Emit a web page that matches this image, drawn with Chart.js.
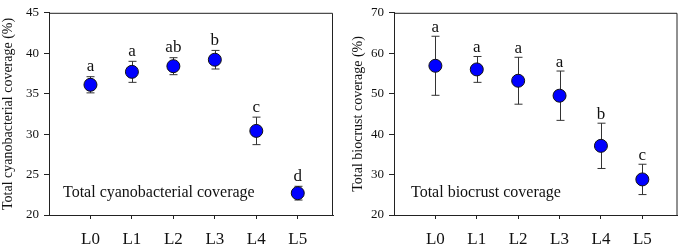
<!DOCTYPE html>
<html lang="en">
<head>
  <meta charset="UTF-8">
  <title>Coverage by level</title>
  <style>
    body {
      margin: 0;
      padding: 0;
      background: #fff;
    }
    .wrap {
      position: relative;
      width: 685px;
      height: 244px;
    }
    #leftBox { position: absolute; left: 0; top: 0; width: 342px; height: 244px; }
    #rightBox { position: absolute; left: 345px; top: 0; width: 340px; height: 244px; }
  </style>
</head>
<body>
  <div class="wrap">
    <div id="leftBox"><canvas id="cyanoChart"></canvas></div>
    <div id="rightBox"><canvas id="crustChart"></canvas></div>
  </div>

  <script src="https://cdn.jsdelivr.net/npm/chart.js"></script>
  <script>
    // categories (x axis)
    var levels = ['L0', 'L1', 'L2', 'L3', 'L4', 'L5'];

    // total cyanobacterial coverage (%), mean and error
    var cyanoMean = [36.1, 37.7, 38.4, 39.2, 30.4, 22.7];
    var cyanoErr  = [1.0, 1.3, 1.05, 1.15, 1.7, 0.85];
    var cyanoLetters = ['a', 'a', 'ab', 'b', 'c', 'd'];
    var cyanoTicks = [20, 25, 30, 35, 40, 45];

    // total biocrust coverage (%), mean and error
    var crustMean = [56.9, 56.0, 53.2, 49.5, 37.1, 28.8];
    var crustErr  = [7.3, 3.2, 5.8, 6.1, 5.6, 3.75];
    var crustLetters = ['a', 'a', 'a', 'a', 'b', 'c'];
    var crustTicks = [20, 30, 40, 50, 60, 70];

    var serif = '"Liberation Serif", "DejaVu Serif", serif';
    var ink = '#222';

    // error bars, box border, letters and inner caption
    var extras = {
      id: 'extras',
      beforeDatasetsDraw: function(chart, args, opts) {
        var ctx = chart.ctx, xs = chart.scales.x, ys = chart.scales.y;
        ctx.save();
        ctx.strokeStyle = '#333';
        ctx.lineWidth = 1;
        opts.mean.forEach(function(m, i) {
          var x = Math.round(xs.getPixelForValue(i)) + 0.5;
          var yt = ys.getPixelForValue(m + opts.err[i]);
          var yb = ys.getPixelForValue(m - opts.err[i]);
          ctx.beginPath();
          ctx.moveTo(x, yt); ctx.lineTo(x, yb);
          ctx.moveTo(x - 4, yt); ctx.lineTo(x + 4, yt);
          ctx.moveTo(x - 4, yb); ctx.lineTo(x + 4, yb);
          ctx.stroke();
        });
        ctx.restore();
      },
      afterDraw: function(chart, args, opts) {
        var ctx = chart.ctx, a = chart.chartArea, xs = chart.scales.x, ys = chart.scales.y;
        ctx.save();
        // top and right frame
        ctx.strokeStyle = ink;
        ctx.lineWidth = 1;
        ctx.beginPath();
        ctx.moveTo(a.left, a.top + 0.5);
        ctx.lineTo(a.right - 0.5, a.top + 0.5);
        ctx.lineTo(a.right - 0.5, a.bottom);
        ctx.stroke();
        // significance letters
        ctx.fillStyle = '#111';
        ctx.font = '17px ' + serif;
        ctx.textAlign = 'center';
        ctx.textBaseline = 'middle';
        opts.letters.forEach(function(t, i) {
          var x = xs.getPixelForValue(i);
          var y = ys.getPixelForValue(opts.mean[i] + opts.err[i]) - opts.gap;
          ctx.fillText(t, x, y);
        });
        // caption inside plot
        ctx.font = '16px ' + serif;
        ctx.textAlign = 'left';
        ctx.fillText(opts.caption, a.left + opts.capX, a.bottom - 22);
        ctx.restore();
      }
    };

    function makeChart(id, mean, err, letters, ticks, yTitle, titlePad, caption, capX, gap, padRight) {
      var ctx = document.getElementById(id).getContext('2d');
      return new Chart(ctx, {
        type: 'scatter',
        data: {
          datasets: [{
            data: mean.map(function(v, i) { return { x: i, y: v }; }),
            pointRadius: 6.5,
            pointHoverRadius: 6.5,
            pointBackgroundColor: '#0000ff',
            pointBorderColor: '#111',
            pointBorderWidth: 1
          }]
        },
        options: {
          responsive: true,
          maintainAspectRatio: false,
          animation: false,
          events: [],
          layout: { padding: { top: 5, right: padRight, left: 0, bottom: 0 } },
          plugins: {
            legend: { display: false },
            tooltip: { enabled: false },
            extras: { mean: mean, err: err, letters: letters, caption: caption, capX: capX, gap: gap }
          },
          scales: {
            x: {
              type: 'linear',
              min: -1,
              max: 5.85,
              afterBuildTicks: function(s) {
                s.ticks = levels.map(function(l, i) { return { value: i }; });
              },
              afterFit: function(s) { s.height = 29; },
              ticks: {
                callback: function(v) { return levels[v]; },
                font: { family: serif, size: 17 },
                color: '#111',
                padding: 10,
                maxRotation: 0,
                autoSkip: false
              },
              grid: { drawOnChartArea: false, drawTicks: true, tickLength: 4, color: ink },
              border: { display: true, color: ink }
            },
            y: {
              min: ticks[0],
              max: ticks[ticks.length - 1],
              afterBuildTicks: function(s) {
                s.ticks = ticks.map(function(v) { return { value: v }; });
              },
              afterFit: function(s) { s.width = 49; },
              ticks: {
                font: { family: serif, size: 13 },
                color: '#111',
                padding: 5
              },
              grid: { drawOnChartArea: false, drawTicks: true, tickLength: 5, color: ink },
              border: { display: true, color: ink },
              title: {
                display: true,
                text: yTitle,
                font: { family: serif, size: 14 },
                color: '#111',
                padding: { top: titlePad, bottom: 0 }
              }
            }
          }
        },
        plugins: [extras]
      });
    }

    makeChart('cyanoChart', cyanoMean, cyanoErr, cyanoLetters, cyanoTicks,
      'Total cyanobacterial coverage (%)', 0, 'Total cyanobacterial coverage', 14, 10, 9);
    makeChart('crustChart', crustMean, crustErr, crustLetters, crustTicks,
      'Total biocrust coverage (%)', 5, 'Total biocrust coverage', 17, 9, 7);
  </script>
</body>
</html>
